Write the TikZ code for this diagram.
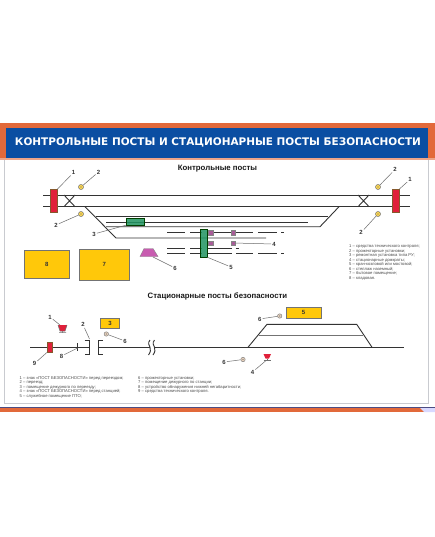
\documentclass[tikz,border=0pt]{standalone}
\usepackage{fontspec}
\setmainfont{Liberation Sans}
\newfontfamily\titlefont{DejaVu Sans}
\definecolor{ink}{HTML}{333333}
\definecolor{orangeb}{HTML}{E2693A}
\definecolor{blueb}{HTML}{0B4EA2}
\definecolor{goldb}{HTML}{FFC80A}
\definecolor{redb}{HTML}{E0203A}
\definecolor{greenb}{HTML}{1F9460}
\definecolor{purpb}{HTML}{A85C98}
\definecolor{magb}{HTML}{C85CB0}
\definecolor{framec}{HTML}{C9CBD0}
\tikzset{
  track/.style={draw=ink,line width=0.9pt},
  leader/.style={draw=gray!85!black,line width=0.5pt},
  numlab/.style={font=\bfseries\fontsize{6}{6}\selectfont,text=ink,inner sep=1pt},
  legend/.style={font=\fontsize{4.15}{4.5}\selectfont,text=black!70,anchor=north west,inner sep=0pt,align=left},
  heading/.style={font=\bfseries\fontsize{7.8}{8}\selectfont,text=black!90,inner sep=0pt},
  goldbox/.style={draw=black!55,line width=0.6pt,fill=goldb,inner sep=0pt,font=\bfseries\fontsize{6}{6}\selectfont,text=ink},
  redpost/.style={draw=brown!70!black,line width=0.4pt,fill=redb,inner sep=0pt},
  greenpost/.style={draw=green!25!black,line width=0.4pt,fill=greenb,fill opacity=0.85,inner sep=0pt},
  lamp/.style={circle,draw=ink!70,fill=goldb!70!white,line width=0.5pt,minimum size=5pt,inner sep=0pt,path picture={\fill[ink!80] (path picture bounding box.center) circle (0.7pt);}},
  lampb/.style={circle,draw=ink!60,fill=brown!35!white,line width=0.5pt,minimum size=4.4pt,inner sep=0pt,path picture={\fill[ink!70] (path picture bounding box.center) circle (0.6pt);}},
  jack/.style={draw=ink!60,fill=purpb,line width=0.3pt,minimum size=4.4pt,inner sep=0pt},
}
\begin{document}
\begin{tikzpicture}[x=1pt,y=-1pt]
\useasboundingbox (0,0) rectangle (435,537);
\fill[white] (0,0) rectangle (435,537);
% frame
\fill[orangeb] (0,123) rectangle (435,158);
\fill[orangeb!60!white] (0,158) rectangle (435,160);
\fill[blueb] (6,128) rectangle (428,158);
\draw[framec,line width=0.9pt] (4.5,160) -- (4.5,403) -- (428.5,403) -- (428.5,160);
\fill[blue!30!black!70] (0,406.5) rectangle (435,408);
\fill[orangeb] (0,408) rectangle (435,412);
\fill[blue!15!white] (420,408) -- (435,408) -- (435,412) -- (424,412) -- cycle;
\node[inner sep=0pt,text=white] (title) at (218,142) {\resizebox{406pt}{!}{\titlefont\bfseries КОНТРОЛЬНЫЕ ПОСТЫ И СТАЦИОНАРНЫЕ ПОСТЫ БЕЗОПАСНОСТИ}};
\node[heading] (h1) at (217.5,168.5) {Контрольные посты};
\node[heading] (h2) at (217.5,296.5) {Стационарные посты безопасности};

% upper tracks
\coordinate (t1a) at (43,195); \coordinate (t1b) at (410,195);
\coordinate (t2a) at (43,206.7); \coordinate (t2b) at (410,206.7);
\draw[track] (t1a) -- (t1b);
\draw[track] (t2a) -- (t2b);
\draw[track] (64,195) -- (75,206.7) (75,195) -- (64,206.7);
\draw[track] (358,195) -- (369,206.7) (369,195) -- (358,206.7);
\draw[track] (85,206.7) -- (116,238) -- (266,238);
\draw[track] (96,216.7) -- (328,216.7);
\draw[track] (106,222) -- (308,222);
\draw[track] (106,226.7) -- (320,226.7) -- (339,206.7);
\foreach \y in {232.5,248.3,253.6}{
  \draw[track] (167,\y) -- (185,\y) (190,\y) -- (202,\y);
}
\draw[track] (207,232.5) -- (253,232.5) (258,232.5) -- (277,232.5) (281,232.5) -- (283.5,232.5);
\draw[track] (207,248.3) -- (232,248.3) (235.5,248.3) -- (238.5,248.3);
\draw[track] (207,253.6) -- (232,253.6) (236,253.6) -- (253,253.6) (258,253.6) -- (277,253.6) (281,253.6) -- (283.5,253.6);

% equipment upper
\node[redpost,minimum width=6.5pt,minimum height=22.5pt] (r1) at (53.7,200.8) {};
\node[redpost,minimum width=7pt,minimum height=22.5pt] (r2) at (395.3,200.8) {};
\node[lamp] (l1) at (81,187) {};
\node[lamp] (l2) at (81,214) {};
\node[lamp] (l3) at (378,187) {};
\node[lamp] (l4) at (378,214) {};
\node[greenpost,minimum width=17.5pt,minimum height=7pt] (g3) at (135.3,221.4) {};
\node[greenpost,minimum width=7pt,minimum height=28pt] (g5) at (203.5,243) {};
\node[jack] (j1) at (210.5,232.5) {};
\node[jack] (j2) at (210.5,243) {};
\node[jack] (j3) at (233,232.5) {};
\node[jack] (j4) at (233,243) {};
\draw[fill=magb,draw=ink!60,line width=0.4pt] (144,248.5) -- (153,248.5) -- (158,256.5) -- (140,256.5) -- cycle;
\coordinate (trap) at (153,257);
\node[goldbox,minimum width=45.5pt,minimum height=27.5pt] (b8) at (46.7,264.5) {8};
\node[goldbox,minimum width=49.5pt,minimum height=31pt] (b7) at (104.3,264.5) {7};

% labels upper
\node[numlab] (n1a) at (73.5,172.7) {1};
\node[numlab] (n2a) at (98.5,172) {2};
\node[numlab] (n2b) at (56,225) {2};
\node[numlab] (n3) at (94,234) {3};
\node[numlab] (n6) at (175,268) {6};
\node[numlab] (n5) at (231,267) {5};
\node[numlab] (n4) at (274,244) {4};
\node[numlab] (n1c) at (410,179.5) {1};
\node[numlab] (n2c) at (395,169.5) {2};
\node[numlab] (n2d) at (361,232.7) {2};
\draw[leader] (r1.north east) -- (n1a);
\draw[leader] (l1) -- (n2a);
\draw[leader] (l2) -- (n2b);
\draw[leader] (g3.south west) -- (n3);
\draw[leader] (trap) -- (n6);
\draw[leader] (g5.south east) -- (n5);
\draw[leader] (j4) -- (n4);
\draw[leader] (r2.north east) -- (n1c);
\draw[leader] (l3) -- (n2c);
\draw[leader] (l4) -- (n2d);

\node[legend] (leg1) at (349,244.7) {1 – средства технического контроля;\\2 – прожекторные установки;\\3 – ремонтная установка типа РУ;\\4 – стационарные домкраты;\\5 – кран-козловой или мостовой;\\6 – стеллаж наземный;\\7 – бытовое помещение;\\8 – кладовая.};

% lower line
\coordinate (m1) at (30,347.3); \coordinate (m2) at (89.5,347.3);
\coordinate (m3) at (98,347.3); \coordinate (m4) at (149.5,347.3);
\coordinate (m5) at (155,347.3); \coordinate (m6) at (404,347.3);
\draw[track] (m1) -- (m2);
\draw[track] (m3) -- (m4);
\draw[track] (m5) -- (m6);
\draw[track] (84.5,340) -- (89.5,340) -- (89.5,354.5) -- (84.5,354.5);
\draw[track] (103,340) -- (98,340) -- (98,354.5) -- (103,354.5);
\coordinate (crossing) at (89.5,339);
\foreach \x in {150,154.5}{
  \draw[track] (\x,340) .. controls (\x-2.5,343) and (\x-1,345) .. (\x,347.3) .. controls (\x+1,350) and (\x+0.5,352) .. (\x-1.5,355);
}
\draw[track] (248,347.3) -- (267,324.3) -- (356.7,324.3) -- (372,347.3);
\draw[draw=gray!90!black,line width=1.5pt] (259,335.7) -- (363,335.7);

% equipment lower
\node[redpost,minimum width=5pt,minimum height=9.5pt] (r9) at (50,347.2) {};
\draw[track] (77.7,343) -- (77.7,351);
\coordinate (tick) at (77.7,348);
\fill[redb] (58,325) -- (67,325) -- (65,331) -- (60,331) -- cycle;
\draw[draw=ink!70,line width=0.5pt] (58,325) -- (60,331) -- (65,331) -- (67,325) (62.5,331) -- (62.5,332.7) (59,332.7) -- (66,332.7);
\coordinate (sign1) at (60,325);
\fill[redb] (263.5,354) -- (271,354) -- (269,358.5) -- (265.5,358.5) -- cycle;
\draw[draw=ink!70,line width=0.5pt] (267.2,358.5) -- (267.2,360.5) (263.5,360.5) -- (271,360.5);
\coordinate (sign4) at (265.5,361);
\node[goldbox,minimum width=19pt,minimum height=10.5pt] (b3) at (110,323.2) {3};
\node[goldbox,minimum width=34.5pt,minimum height=11pt] (b5) at (303.6,312.5) {5};
\node[lampb] (l5) at (106.3,334) {};
\node[lampb] (l6) at (279.7,316) {};
\node[lampb] (l7) at (243,359.5) {};

\node[numlab] (n1e) at (50,317) {1};
\node[numlab] (n2e) at (83,324.7) {2};
\node[numlab] (n9e) at (34.5,363.5) {9};
\node[numlab] (n8e) at (61.5,356) {8};
\node[numlab] (n6e) at (125,341) {6};
\node[numlab] (n6f) at (259.7,319) {6};
\node[numlab] (n6g) at (224,362) {6};
\node[numlab] (n4e) at (252.5,372) {4};
\draw[leader] (sign1) -- (n1e);
\draw[leader] (crossing) -- (n2e);
\draw[leader] (r9.south west) -- (n9e);
\draw[leader] (tick) -- (n8e);
\draw[leader] (l5) -- (n6e);
\draw[leader] (l6) -- (n6f);
\draw[leader] (l7) -- (n6g);
\draw[leader] (sign4) -- (n4e);

\node[legend] (leg2) at (19.5,376) {1 – знак «ПОСТ БЕЗОПАСНОСТИ» перед переездом;\\2 – переезд;\\3 – помещение дежурного по переезду;\\4 – знак «ПОСТ БЕЗОПАСНОСТИ» перед станцией;\\5 – служебное помещение ПТО;};
\node[legend] (leg3) at (138,376) {6 – прожекторные установки;\\7 – помещение дежурного по станции;\\8 – устройство обнаружения нижней негабаритности;\\9 – средства технического контроля.};
\end{tikzpicture}
\end{document}
